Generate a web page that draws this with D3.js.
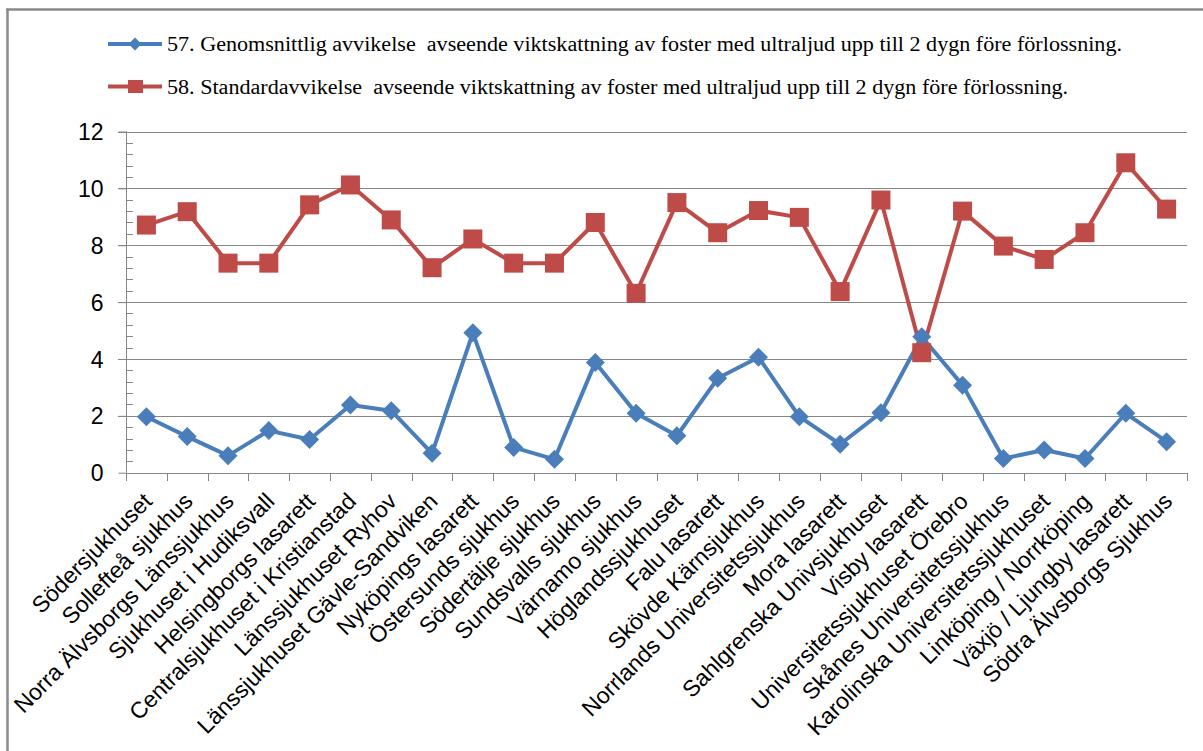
<!DOCTYPE html>
<html>
<head>
<meta charset="utf-8">
<script src="https://cdn.jsdelivr.net/npm/d3@7"></script>
<style>
  html, body { margin: 0; padding: 0; background: #fff; }
  svg { display: block; }
</style>
</head>
<body>
<svg id="chart" width="1203" height="751"></svg>
<script>
const categories = [
  "Södersjukhuset",
  "Sollefteå sjukhus",
  "Norra Älvsborgs Länssjukhus",
  "Sjukhuset i Hudiksvall",
  "Helsingborgs lasarett",
  "Centralsjukhuset i Kristianstad",
  "Länssjukhuset Ryhov",
  "Länssjukhuset Gävle-Sandviken",
  "Nyköpings lasarett",
  "Östersunds sjukhus",
  "Södertälje sjukhus",
  "Sundsvalls sjukhus",
  "Värnamo sjukhus",
  "Höglandssjukhuset",
  "Falu lasarett",
  "Skövde Kärnsjukhus",
  "Norrlands Universitetssjukhus",
  "Mora lasarett",
  "Sahlgrenska Univsjukhuset",
  "Visby lasarett",
  "Universitetssjukhuset Örebro",
  "Skånes Universitetssjukhus",
  "Karolinska Universitetssjukhuset",
  "Linköping / Norrköping",
  "Växjö / Ljungby lasarett",
  "Södra Älvsborgs Sjukhus"
];
const series57 = [1.97, 1.27, 0.60, 1.48, 1.17, 2.38, 2.18, 0.68, 4.92, 0.89, 0.47, 3.88, 2.09, 1.30, 3.32, 4.06, 1.97, 1.00, 2.11, 4.78, 3.08, 0.50, 0.80, 0.50, 2.09, 1.09];
const series58 = [8.71, 9.18, 7.37, 7.37, 9.42, 10.12, 8.89, 7.21, 8.22, 7.37, 7.37, 8.80, 6.31, 9.50, 8.44, 9.22, 8.98, 6.37, 9.59, 4.22, 9.20, 7.97, 7.50, 8.44, 10.90, 9.27];
const seriesNames = [
  "57. Genomsnittlig avvikelse  avseende viktskattning av foster med ultraljud upp till 2 dygn före förlossning.",
  "58. Standardavvikelse  avseende viktskattning av foster med ultraljud upp till 2 dygn före förlossning."
];
const yTicks = [0, 2, 4, 6, 8, 10, 12];
const yMinorTicks = d3.range(0, 12.001, 0.4);

const colors = ["#4A7EBB", "#BE4B48"];
const svg = d3.select("#chart");
const plotLeft = 126, plotRight = 1187, plotTop = 131.5, plotBottom = 472.7;

// outer frame
svg.append("line").attr("x1", 7.5).attr("x2", 7.5).attr("y1", 9).attr("y2", 751)
  .attr("stroke", "#8a8a8a").attr("stroke-width", 2.5);
svg.append("line").attr("x1", 6).attr("x2", 1203).attr("y1", 9.5).attr("y2", 9.5)
  .attr("stroke", "#8a8a8a").attr("stroke-width", 2.5);

const x = d3.scaleBand().domain(categories).range([plotLeft, plotRight]).paddingInner(0).paddingOuter(0);
const y = d3.scaleLinear().domain([0, 12]).range([plotBottom, plotTop]);
const gridColor = "#868686";

// gridlines
svg.append("g").selectAll("line").data(yTicks.filter(d => d > 0)).join("line")
  .attr("x1", plotLeft - 8).attr("x2", plotRight)
  .attr("y1", d => Math.round(y(d)) + 0.5).attr("y2", d => Math.round(y(d)) + 0.5)
  .attr("stroke", gridColor).attr("stroke-width", 1);

// minor ticks (inside)
svg.append("g").selectAll("line").data(yMinorTicks).join("line")
  .attr("x1", plotLeft).attr("x2", plotLeft + 7)
  .attr("y1", d => Math.round(y(d)) + 0.5).attr("y2", d => Math.round(y(d)) + 0.5)
  .attr("stroke", gridColor).attr("stroke-width", 1);

// y axis
const yAxis = d3.axisLeft(y).tickValues(yTicks).tickSize(8).tickPadding(15).tickFormat(d3.format("d"));
const gy = svg.append("g").attr("transform", `translate(${plotLeft + 0.5},0)`).call(yAxis);
gy.selectAll("path, line").attr("stroke", gridColor);
gy.select(".domain").attr("d", `M0,${plotTop}V${plotBottom}`);
gy.selectAll("text").attr("font-family", "Liberation Sans, Arial, sans-serif")
  .attr("font-size", 23).attr("fill", "#000").attr("dy", "0.35em");

// x axis
const xTickPos = categories.map(c => x(c)).concat([plotRight]);
const gx = svg.append("g");
gx.append("line").attr("x1", plotLeft).attr("x2", plotRight)
  .attr("y1", Math.round(plotBottom) + 0.5).attr("y2", Math.round(plotBottom) + 0.5)
  .attr("stroke", gridColor);
gx.selectAll("line.tick").data(xTickPos).join("line").attr("class", "tick")
  .attr("x1", d => Math.round(d) + 0.5).attr("x2", d => Math.round(d) + 0.5)
  .attr("y1", Math.round(plotBottom)).attr("y2", Math.round(plotBottom) + 8)
  .attr("stroke", gridColor);
gx.selectAll("text").data(categories).join("text")
  .attr("transform", d => `translate(${x(d) + x.bandwidth() / 2 + 7},${plotBottom + 30}) rotate(-45)`)
  .attr("text-anchor", "end")
  .attr("font-family", "Liberation Sans, Arial, sans-serif")
  .attr("font-size", 23).attr("fill", "#000")
  .text(d => d);

// lines
const line = d3.line().x((d, i) => x(categories[i]) + x.bandwidth() / 2).y(d => y(d));
[series57, series58].forEach((s, k) => {
  svg.append("path").datum(s).attr("d", line)
    .attr("fill", "none").attr("stroke", colors[k]).attr("stroke-width", 4)
    .attr("stroke-linejoin", "round");
});

// markers
const diamond = (cx, cy, r) => `M${cx},${cy - r}L${cx + r},${cy}L${cx},${cy + r}L${cx - r},${cy}Z`;
svg.append("g").selectAll("path").data(series57).join("path")
  .attr("d", (d, i) => diamond(x(categories[i]) + x.bandwidth() / 2, y(d), 9.5))
  .attr("fill", colors[0]);
svg.append("g").selectAll("rect").data(series58).join("rect")
  .attr("x", (d, i) => x(categories[i]) + x.bandwidth() / 2 - 9.5)
  .attr("y", d => y(d) - 9.5)
  .attr("width", 19).attr("height", 19)
  .attr("fill", colors[1]);

// legend
const legendY = [44, 86.5];
const legendLen = [955, 901];
seriesNames.forEach((name, k) => {
  const g = svg.append("g");
  g.append("line").attr("x1", 108).attr("x2", 162).attr("y1", legendY[k]).attr("y2", legendY[k])
    .attr("stroke", colors[k]).attr("stroke-width", 4);
  if (k === 0) {
    g.append("path").attr("d", diamond(135, legendY[k], 6.5)).attr("fill", colors[k]);
  } else {
    g.append("rect").attr("x", 128).attr("y", legendY[k] - 6.5).attr("width", 15).attr("height", 13)
      .attr("fill", colors[k]);
  }
  g.append("text").attr("x", 167).attr("y", legendY[k] + 7)
    .attr("font-family", "Liberation Serif, Times New Roman, serif")
    .attr("font-size", 20).attr("fill", "#000")
    .attr("textLength", legendLen[k]).attr("lengthAdjust", "spacingAndGlyphs")
    .style("white-space", "pre")
    .text(name);
});
</script>
</body>
</html>
